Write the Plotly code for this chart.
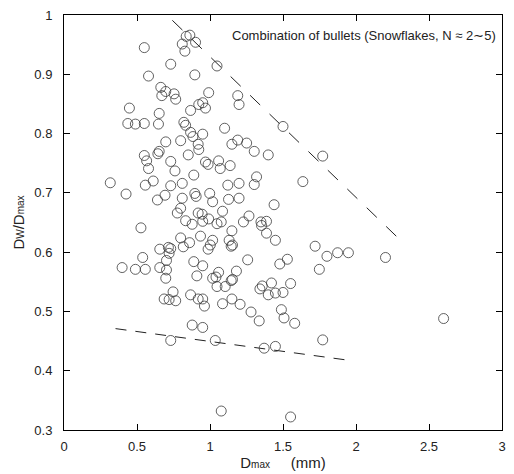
import plotly.graph_objects as go

# Scatter data: Dmax (mm) and Dw/Dmax
dmax = [
    0.550, 0.731, 0.837, 0.862, 0.810, 0.828, 0.901, 1.048, 0.579, 0.896,
    0.663, 0.697, 0.670, 0.754, 0.765, 0.991, 0.923, 0.950, 0.969, 0.448,
    0.652, 0.867, 0.437, 0.489, 0.550, 0.647, 0.821, 0.833, 1.100, 0.867,
    0.883, 0.950, 0.697, 0.799, 0.919, 0.923, 0.851, 0.550, 0.566, 0.643,
    0.652, 0.731, 0.969, 0.987, 1.059,
    0.579, 0.760, 1.070, 0.889, 0.317, 0.557, 0.611, 0.731, 0.810, 1.122,
    0.425, 0.640, 0.692, 0.810, 0.896, 0.905, 0.998, 1.018, 0.776, 0.799,
    0.919, 0.946, 1.086, 0.833, 0.878, 0.950, 0.991, 1.048, 1.077, 0.527,
    0.799, 0.860, 0.935, 1.018, 1.002, 0.987, 0.656, 0.715, 0.731, 0.720,
    0.817, 0.539, 0.702, 0.889, 0.950, 0.398, 0.489, 0.557, 0.656, 0.702,
    0.697, 0.910, 1.018, 1.041, 1.059, 1.048, 1.104, 0.747, 0.686, 0.720,
    0.765, 0.867, 0.919, 0.950, 0.962, 1.086,
    0.878, 0.950, 0.731, 1.036, 1.077,
    1.190, 1.199, 1.500, 1.150, 1.190, 1.251, 1.303, 1.399, 1.772, 1.138,
    1.319, 1.303, 1.199, 1.636, 1.127, 1.199, 1.439, 1.267, 1.229, 1.349,
    1.353, 1.387, 1.387, 1.448, 1.150, 1.131, 1.145, 1.154, 1.258, 1.478,
    1.530, 1.720, 1.801, 1.874, 1.948, 2.202, 1.749, 1.181, 1.145, 1.154,
    1.342, 1.358, 1.421, 1.399, 1.448, 1.500, 1.552, 1.150, 1.206, 1.281,
    1.337, 1.489, 1.507, 1.580,
    1.371, 1.448, 1.772, 1.552, 2.600,
]
ratio = [
    0.945, 0.917, 0.964, 0.966, 0.951, 0.939, 0.954, 0.914, 0.897, 0.899,
    0.878, 0.871, 0.864, 0.867, 0.858, 0.869, 0.849, 0.852, 0.843, 0.843,
    0.834, 0.839, 0.817, 0.816, 0.817, 0.816, 0.819, 0.814, 0.809, 0.802,
    0.795, 0.799, 0.786, 0.788, 0.782, 0.773, 0.764, 0.763, 0.754, 0.766,
    0.770, 0.753, 0.752, 0.748, 0.754,
    0.741, 0.737, 0.741, 0.730, 0.717, 0.713, 0.720, 0.712, 0.716, 0.713,
    0.698, 0.688, 0.696, 0.691, 0.699, 0.694, 0.699, 0.685, 0.666, 0.674,
    0.666, 0.664, 0.669, 0.653, 0.647, 0.652, 0.656, 0.648, 0.651, 0.641,
    0.624, 0.616, 0.627, 0.620, 0.612, 0.605, 0.605, 0.608, 0.606, 0.598,
    0.609, 0.591, 0.586, 0.584, 0.577, 0.574, 0.571, 0.571, 0.574, 0.570,
    0.556, 0.560, 0.556, 0.558, 0.566, 0.542, 0.542, 0.533, 0.521, 0.520,
    0.518, 0.528, 0.521, 0.521, 0.509, 0.513,
    0.477, 0.473, 0.451, 0.451, 0.332,
    0.864, 0.849, 0.812, 0.782, 0.789, 0.784, 0.770, 0.764, 0.762, 0.746,
    0.727, 0.714, 0.716, 0.719, 0.689, 0.691, 0.680, 0.661, 0.651, 0.651,
    0.645, 0.652, 0.632, 0.620, 0.636, 0.620, 0.610, 0.612, 0.587, 0.580,
    0.588, 0.610, 0.593, 0.599, 0.599, 0.591, 0.571, 0.568, 0.552, 0.554,
    0.538, 0.543, 0.548, 0.528, 0.531, 0.532, 0.547, 0.521, 0.512, 0.499,
    0.484, 0.503, 0.489, 0.480,
    0.438, 0.441, 0.452, 0.322, 0.488,
]

# Dashed envelope lines (endpoints in data units)
upper_x = [0.742, 2.286]
upper_y = [0.991, 0.6245]
lower_x = [0.353, 1.969]
lower_y = [0.471, 0.417]

x_ticks = [0, 0.5, 1, 1.5, 2, 2.5, 3]
x_labels = ["0", "0.5", "1", "1.5", "2", "2.5", "3"]
y_ticks = [0.3, 0.4, 0.5, 0.6, 0.7, 0.8, 0.9, 1.0]
y_labels = ["0.3", "0.4", "0.5", "0.6", "0.7", "0.8", "0.9", "1"]

FONT = "Liberation Sans"
INK = "#222222"

fig = go.Figure()
fig.add_trace(go.Scatter(
    x=upper_x, y=upper_y, mode="lines",
    line=dict(color=INK, width=1, dash="14px,13px"),
    hoverinfo="skip", showlegend=False,
))
fig.add_trace(go.Scatter(
    x=lower_x, y=lower_y, mode="lines",
    line=dict(color=INK, width=1, dash="11px,9px"),
    hoverinfo="skip", showlegend=False,
))
fig.add_trace(go.Scatter(
    x=dmax, y=ratio, mode="markers",
    marker=dict(symbol="circle-open", size=10, color="#3a3a3a",
                line=dict(width=0.8, color="#3a3a3a")),
    showlegend=False,
))

axis_common = dict(
    showgrid=False, zeroline=False, showline=True, linecolor="black",
    linewidth=1, mirror="ticks", ticks="inside", ticklen=6,
    tickcolor="black", tickwidth=1,
    tickfont=dict(family=FONT, size=13, color=INK),
)

fig.update_layout(
    width=514, height=474,
    margin=dict(l=64, r=8, t=12, b=42),
    paper_bgcolor="white", plot_bgcolor="white",
    font=dict(family=FONT, color=INK),
    xaxis=dict(
        range=[0, 3], tickvals=x_ticks, ticktext=x_labels,
        ticklabelstandoff=4,
        title=dict(
            text="D<span style='font-size:10px'>max</span>&nbsp;&nbsp;&nbsp;&nbsp;&nbsp;(mm)",
            font=dict(family=FONT, size=15, color=INK), standoff=2,
        ),
        **axis_common,
    ),
    yaxis=dict(
        range=[0.3, 1.0], tickvals=y_ticks, ticktext=y_labels,
        ticklabelstandoff=8,
        title=dict(
            text="D<span style='font-size:10px'>W</span>/D<span style='font-size:10px'>max</span>",
            font=dict(family=FONT, size=15, color=INK), standoff=6,
        ),
        **axis_common,
    ),
    annotations=[dict(
        text="Combination of bullets (Snowflakes, N ≈ 2∼5)",
        xref="paper", yref="paper", x=0.991, y=0.95,
        xanchor="right", yanchor="middle", showarrow=False,
        font=dict(family=FONT, size=13, color=INK),
    )],
)

fig.write_html("out.html")
